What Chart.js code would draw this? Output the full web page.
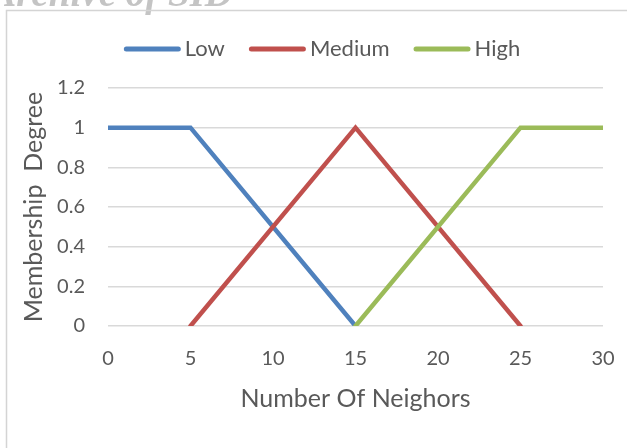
<!DOCTYPE html>
<html>
<head>
<meta charset="utf-8">
<title>Membership Degree</title>
<script src="https://cdn.jsdelivr.net/npm/chart.js@4/dist/chart.umd.min.js"></script>
<style>
  html, body { margin: 0; padding: 0; background: #ffffff; }
  #wrap { position: relative; width: 627px; height: 448px; }
</style>
</head>
<body>
<div id="wrap"><canvas id="chart" width="627" height="448"></canvas></div>
<script>
// Membership functions over the number of neighbors
const seriesNames = ['Low', 'Medium', 'High'];
const seriesColors = ['#4F81BD', '#C0504D', '#9BBB59'];

const lowX = [0, 5, 15];
const lowY = [1, 1, 0];
const mediumX = [5, 15, 25];
const mediumY = [0, 1, 0];
const highX = [15, 25, 30];
const highY = [0, 1, 1];

const xTickLabels = ['0', '5', '10', '15', '20', '25', '30'];
const yTickLabels = ['0', '0.2', '0.4', '0.6', '0.8', '1', '1.2'];

const xTitle = 'Number Of Neighors';
const yTitle = 'Membership  Degree';
const watermark = 'Archive of SID';

const TEXT = '#595959';
const GRID = '#d9d9d9';
const FONT = 'Lato';

function points(xs, ys) {
  return xs.map((x, i) => ({ x: x, y: ys[i] }));
}

const seriesPoints = [points(lowX, lowY), points(mediumX, mediumY), points(highX, highY)];

// Frame and faint header text behind the chart
const framePlugin = {
  id: 'frame',
  beforeDraw(chart) {
    const ctx = chart.ctx;
    ctx.save();
    ctx.fillStyle = '#ffffff';
    ctx.fillRect(0, 0, chart.width, chart.height);
    ctx.font = 'italic bold 39px "Liberation Serif"';
    ctx.fillStyle = '#c4c4c4';
    ctx.textAlign = 'right';
    ctx.textBaseline = 'alphabetic';
    ctx.fillText(watermark, 233, 6);
    ctx.strokeStyle = '#d4d4d4';
    ctx.lineWidth = 1.5;
    ctx.beginPath();
    ctx.moveTo(6.5, chart.height);
    ctx.lineTo(6.5, 10.5);
    ctx.lineTo(chart.width, 10.5);
    ctx.stroke();
    ctx.restore();
  }
};

// Legend drawn as short thick line samples followed by the series name
const lineLegendPlugin = {
  id: 'lineLegend',
  afterDraw(chart, args, opts) {
    const ctx = chart.ctx;
    ctx.save();
    ctx.font = opts.fontSize + 'px ' + FONT;
    const items = chart.data.datasets.map(ds => ({
      text: ds.label,
      color: ds.borderColor,
      w: ctx.measureText(ds.label).width
    }));
    let total = 0;
    items.forEach((it, i) => {
      total += opts.swatch + opts.gap + it.w + (i < items.length - 1 ? opts.spacing : 0);
    });
    let x = opts.centerX - total / 2;
    items.forEach(it => {
      ctx.strokeStyle = it.color;
      ctx.lineWidth = opts.thickness;
      ctx.lineCap = 'round';
      ctx.beginPath();
      ctx.moveTo(x + opts.thickness / 2, opts.y);
      ctx.lineTo(x + opts.swatch - opts.thickness / 2, opts.y);
      ctx.stroke();
      x += opts.swatch + opts.gap;
      ctx.fillStyle = TEXT;
      ctx.textAlign = 'left';
      ctx.textBaseline = 'middle';
      ctx.fillText(it.text, x, opts.y);
      x += it.w + opts.spacing;
    });
    ctx.restore();
  }
};

new Chart(document.getElementById('chart'), {
  type: 'line',
  data: {
    datasets: seriesNames.map((name, i) => ({
      label: name,
      data: seriesPoints[i],
      borderColor: seriesColors[i],
      backgroundColor: seriesColors[i],
      borderWidth: 4.5,
      borderCapStyle: 'round',
      borderJoinStyle: 'miter',
      pointRadius: 0,
      pointHoverRadius: 0,
      fill: false,
      tension: 0,
      order: seriesNames.length - i
    }))
  },
  options: {
    responsive: false,
    animation: false,
    events: [],
    layout: { padding: { left: 8, right: 24, top: 88, bottom: 0 } },
    plugins: {
      legend: { display: false },
      tooltip: { enabled: false },
      lineLegend: { centerX: 322, y: 49, swatch: 57, gap: 4, spacing: 24, thickness: 5, fontSize: 22 }
    },
    scales: {
      x: {
        type: 'linear',
        min: 0,
        max: 30,
        afterFit(scale) {
          scale.height = 122;
          scale.paddingLeft = 0;
          scale.paddingRight = 0;
        },
        afterBuildTicks(scale) {
          scale.ticks = xTickLabels.map(t => ({ value: Number(t) }));
        },
        ticks: {
          callback: (v, i) => xTickLabels[i],
          color: TEXT,
          font: { family: FONT, size: 20 },
          padding: 21,
          maxRotation: 0
        },
        grid: { display: false, drawTicks: false },
        border: { display: false },
        title: {
          display: true,
          text: xTitle,
          color: TEXT,
          font: { family: FONT, size: 25 },
          padding: { top: 0, bottom: 34 }
        }
      },
      y: {
        type: 'linear',
        min: 0,
        max: 1.2,
        afterFit(scale) { scale.width = 100; },
        afterBuildTicks(scale) {
          scale.ticks = yTickLabels.map(t => ({ value: Number(t) }));
        },
        ticks: {
          callback: (v, i) => yTickLabels[i],
          color: TEXT,
          font: { family: FONT, size: 20 },
          padding: 23
        },
        grid: { color: GRID, lineWidth: 1.5, drawTicks: false },
        border: { display: false },
        title: {
          display: true,
          text: yTitle,
          color: TEXT,
          font: { family: FONT, size: 25 },
          padding: { top: 11, bottom: 0 }
        }
      }
    }
  },
  plugins: [framePlugin, lineLegendPlugin]
});
</script>
</body>
</html>
